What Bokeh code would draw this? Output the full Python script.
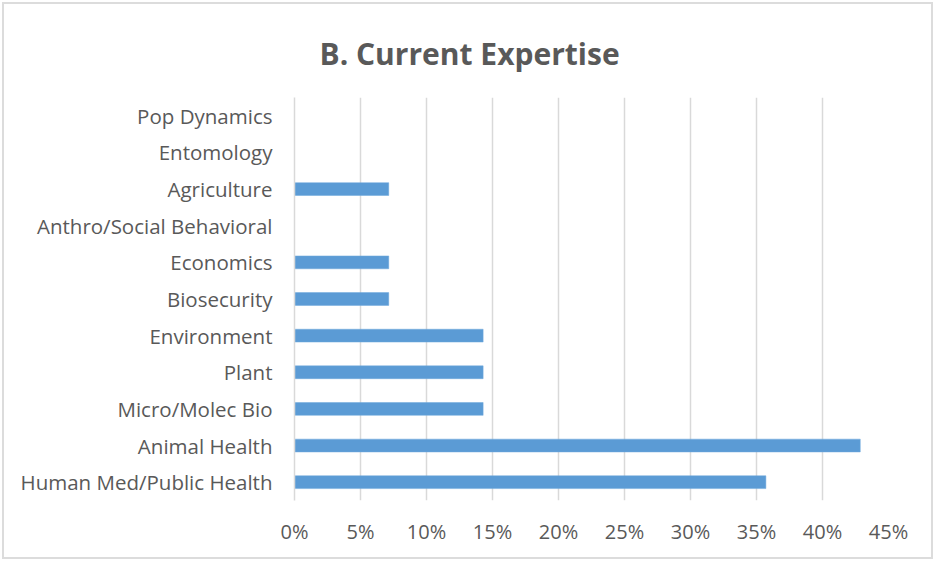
from bokeh.plotting import figure
from bokeh.models import FactorRange, Range1d, NumeralTickFormatter, FixedTicker
from bokeh.embed import file_html
from bokeh.resources import INLINE

# Data (bottom to top)
categories = ["Human Med/Public Health", "Animal Health", "Micro/Molec Bio", "Plant",
              "Environment", "Biosecurity", "Economics", "Anthro/Social Behavioral",
              "Agriculture", "Entomology", "Pop Dynamics"]
values = [0.3571, 0.4286, 0.1429, 0.1429, 0.1429, 0.0714, 0.0714, 0.0, 0.0714, 0.0, 0.0]
x_ticks = [0, 0.05, 0.10, 0.15, 0.20, 0.25, 0.30, 0.35, 0.40, 0.45]
title_text = "B. Current Expertise"

TEXT = "#595959"
GRID = "#d9d9d9"
FONT = "Open Sans"

p = figure(width=931, height=557, y_range=FactorRange(*categories),
           x_range=Range1d(0, 0.45), output_backend="svg", toolbar_location=None,
           min_border_left=290, min_border_right=47, min_border_top=93, min_border_bottom=61)
p.outline_line_color = None
p.background_fill_color = "white"
p.border_fill_color = "white"

p.hbar(y=categories, right=values, left=0, height=0.35, color="#5b9bd5", line_color="#6fa8dc", line_width=0.5)

# title
p.title.text = title_text
p.title.align = "left"
p.title.offset = 25
p.title.standoff = 48
p.title.text_font = FONT
p.title.text_font_size = "30px"
p.title.text_font_style = "bold"
p.title.text_color = TEXT

# x axis
p.xaxis.ticker = FixedTicker(ticks=x_ticks)
p.xaxis.formatter = NumeralTickFormatter(format="0%")
p.xaxis.axis_line_color = None
p.xaxis.major_tick_line_color = None
p.xaxis.minor_tick_line_color = None
p.xaxis.major_label_text_font = FONT
p.xaxis.major_label_text_font_size = "20px"
p.xaxis.major_label_text_color = TEXT
p.xaxis.major_label_standoff = 11

# y axis
p.yaxis.axis_line_color = GRID
p.yaxis.axis_line_width = 1.5
p.yaxis.major_tick_line_color = None
p.yaxis.minor_tick_line_color = None
p.yaxis.major_label_text_font = FONT
p.yaxis.major_label_text_font_size = "20.5px"
p.yaxis.major_label_text_color = TEXT
p.yaxis.major_label_standoff = 16

p.xgrid.grid_line_color = GRID
p.xgrid.grid_line_width = 1.5
p.ygrid.grid_line_color = None

p.styles = {"margin": "2px", "border": "2px solid #dcdcdc", "box-sizing": "border-box"}

open("out.html", "w").write(file_html(p, INLINE))
